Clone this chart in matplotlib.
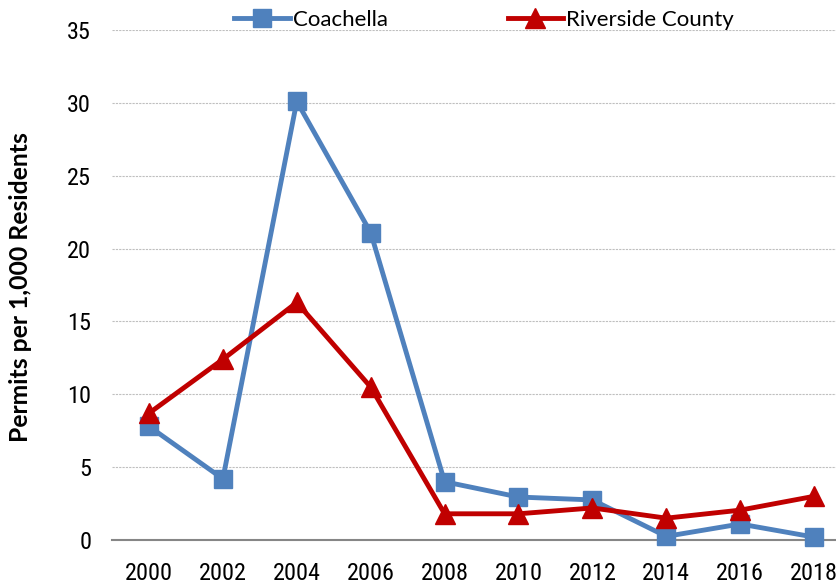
import matplotlib
matplotlib.use("Agg")
import matplotlib.pyplot as plt
from matplotlib import font_manager

years = ["2000", "2002", "2004", "2006", "2008", "2010", "2012", "2014", "2016", "2018"]
coachella = [7.8, 4.2, 30.1, 21.1, 4.0, 2.95, 2.75, 0.25, 1.1, 0.2]
riverside = [8.7, 12.4, 16.3, 10.5, 1.8, 1.8, 2.2, 1.5, 2.05, 3.0]
yticks = [0, 5, 10, 15, 20, 25, 30, 35]

blue = "#4F81BD"
red = "#C00000"

names = {f.name for f in font_manager.fontManager.ttflist}
narrow = None
for cand in ["Liberation Sans Narrow", "Arial Narrow", "DejaVu Sans Condensed", "Roboto Condensed", "Open Sans Condensed"]:
    if cand in names:
        narrow = cand
        break
if narrow:
    tickfont = [narrow, "DejaVu Sans"]
    ticksize = 19.5 if "Narrow" in narrow else 17.5
else:
    tickfont = ["Liberation Sans", "DejaVu Sans"]
    ticksize = 15

fig = plt.figure(figsize=(8.36, 5.88), dpi=100)
ax = fig.add_axes([0.134, 0.0816, 0.884, 0.8674])

x = list(range(len(years)))
ax.plot(x, coachella, color=blue, lw=3.5, marker="s", markersize=13, label="Coachella", clip_on=False, zorder=3)
ax.plot(x, riverside, color=red, lw=3.5, marker="^", markersize=14, label="Riverside County", clip_on=False, zorder=4)

ax.set_xlim(-0.5, len(years) - 0.5)
ax.set_ylim(0, 35)
ax.set_yticks(yticks)
ax.set_xticks(x)
ax.set_xticklabels(years, family=tickfont, fontsize=ticksize)
ax.set_yticklabels([str(v) for v in yticks], family=tickfont, fontsize=ticksize)
ax.tick_params(axis="both", length=0)
ax.tick_params(axis="y", pad=15)
ax.tick_params(axis="x", pad=16)

for s in ["top", "right", "left"]:
    ax.spines[s].set_visible(False)
ax.spines["bottom"].set_color("#868686")
ax.spines["bottom"].set_linewidth(1.5)

ax.grid(axis="y", color="#BFBFBF", linestyle=(0, (2, 1)), lw=0.8)
ax.set_axisbelow(True)

fig.text(0.025, 0.512, "Permits per 1,000 Residents", rotation=90, ha="center", va="center",
         family=["Lato", "DejaVu Sans"], fontweight="bold", fontsize=17.8)

leg = fig.legend(loc="center", bbox_to_anchor=(0.579, 0.966), ncol=2, frameon=False,
                 prop={"family": ["Lato", "DejaVu Sans"], "size": 16},
                 handlelength=2.5, handletextpad=0.12, columnspacing=5.4)

fig.savefig("out.png", dpi=100)
